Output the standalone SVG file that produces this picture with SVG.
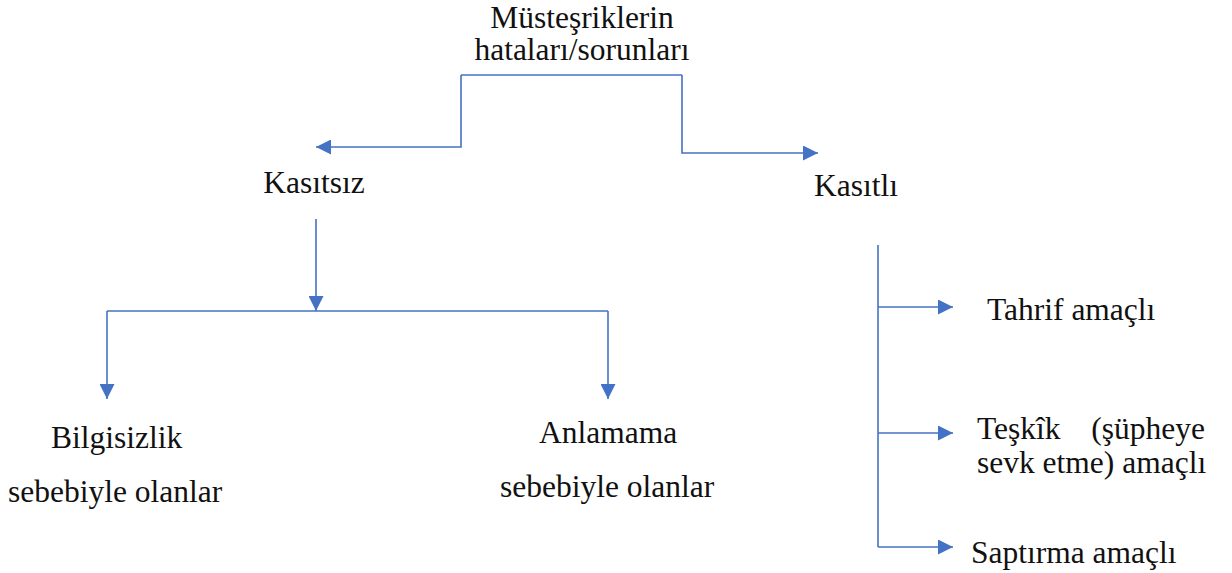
<svg xmlns="http://www.w3.org/2000/svg" width="1232" height="573" viewBox="0 0 1232 573">
  <style>
    text { font-family: "Liberation Serif", "Times New Roman", serif; font-size: 31.5px; fill: #111; }
    .mid { text-anchor: middle; }
    .end { text-anchor: end; }
    .wire { fill: none; stroke: #4472C4; stroke-width: 1.6; }
  </style>
  <defs>
    <marker id="head" viewBox="0 0 15 15" refX="15" refY="7.5" markerWidth="15" markerHeight="15" markerUnits="userSpaceOnUse" orient="auto">
      <path d="M0,0 L15,7.5 L0,15 Z" fill="#4472C4"/>
    </marker>
  </defs>

  <rect width="1232" height="573" fill="#fff"/>

  <g id="connectors">
    <!-- root split -->
    <path class="wire" d="M461,75 H682"/>
    <path class="wire" d="M461,75 V147 H316" marker-end="url(#head)"/>
    <path class="wire" d="M682,75 V153 H818" marker-end="url(#head)"/>
    <!-- unintentional branch -->
    <path class="wire" d="M316,219 V311" marker-end="url(#head)"/>
    <path class="wire" d="M107,311 H608"/>
    <path class="wire" d="M107,311 V399" marker-end="url(#head)"/>
    <path class="wire" d="M608,311 V399" marker-end="url(#head)"/>
    <!-- intentional branch -->
    <path class="wire" d="M878,245 V547"/>
    <path class="wire" d="M878,307 H953" marker-end="url(#head)"/>
    <path class="wire" d="M878,433 H953" marker-end="url(#head)"/>
    <path class="wire" d="M878,547 H953" marker-end="url(#head)"/>
  </g>

  <g id="root">
    <text class="mid" x="582" y="28">Müsteşriklerin</text>
    <text class="mid" x="582" y="60">hataları/sorunları</text>
  </g>

  <g id="kasitsiz">
    <text class="mid" x="314" y="193">Kasıtsız</text>
  </g>

  <g id="kasitli">
    <text class="mid" x="856" y="196">Kasıtlı</text>
  </g>

  <g id="bilgisizlik">
    <text x="51" y="448">Bilgisizlik</text>
    <text x="8" y="502">sebebiyle olanlar</text>
  </g>

  <g id="anlamama">
    <text x="539" y="443">Anlamama</text>
    <text x="500" y="497">sebebiyle olanlar</text>
  </g>

  <g id="tahrif">
    <text x="987" y="320">Tahrif amaçlı</text>
  </g>

  <g id="teskik">
    <text x="977" y="439">Teşkîk</text>
    <text class="end" x="1205" y="439">(şüpheye</text>
    <text x="977" y="473">sevk etme) amaçlı</text>
  </g>

  <g id="saptirma">
    <text x="971" y="563">Saptırma amaçlı</text>
  </g>
</svg>
